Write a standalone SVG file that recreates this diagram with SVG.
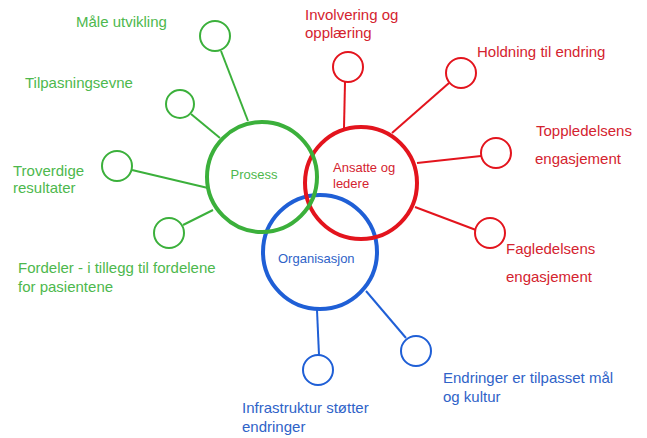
<svg xmlns="http://www.w3.org/2000/svg" width="647" height="438" viewBox="0 0 647 438">
<style>
text{font-family:"Liberation Sans",Arial,sans-serif;font-size:15px}
.g{fill:#4db84d}.r{fill:#d4232f}.b{fill:#2f63c8}
.in{font-size:13px}
.big{fill:none;stroke-width:4}
.sm{fill:#fff;stroke-width:2}
.ln{stroke-width:2;fill:none}
.G{stroke:#3bb03b}.R{stroke:#e3141d}.B{stroke:#1f5fd6}
</style>
<rect width="647" height="438" fill="#fff"/>
<g id="connectors">
<line class="ln G" x1="221" y1="51" x2="248" y2="121"/>
<line class="ln G" x1="191" y1="114" x2="220" y2="138"/>
<line class="ln G" x1="132" y1="170" x2="208" y2="188"/>
<line class="ln G" x1="183" y1="225" x2="213" y2="210"/>
<line class="ln R" x1="345" y1="82" x2="344" y2="128"/>
<line class="ln R" x1="449" y1="83" x2="392" y2="133"/>
<line class="ln R" x1="481" y1="156" x2="417" y2="163"/>
<line class="ln R" x1="415" y1="207" x2="476" y2="230"/>
<line class="ln B" x1="317" y1="310" x2="319" y2="355"/>
<line class="ln B" x1="366" y1="291" x2="406" y2="338"/>
</g>
<g id="organisasjon"><circle class="big B" cx="320" cy="252" r="57"/><text class="b in" x="278" y="263">Organisasjon</text></g>
<g id="ansatte"><circle class="big R" cx="361" cy="183" r="56"/><text class="r in" x="333" y="172">Ansatte og</text><text class="r in" x="333" y="188">ledere</text></g>
<g id="prosess"><circle class="big G" cx="262" cy="177" r="55"/><text class="g in" x="254" y="179" text-anchor="middle">Prosess</text></g>
<g id="maale"><circle class="sm G" cx="215" cy="36" r="15"/><text class="g" x="76" y="27">Måle utvikling</text></g>
<g id="tilpasning"><circle class="sm G" cx="180" cy="104" r="14"/><text class="g" x="25" y="88">Tilpasningsevne</text></g>
<g id="troverdige"><circle class="sm G" cx="117" cy="166" r="15"/><text class="g" x="13" y="176">Troverdige</text><text class="g" x="13" y="193">resultater</text></g>
<g id="fordeler"><circle class="sm G" cx="169" cy="233" r="15"/><text class="g" x="18" y="273">Fordeler - i tillegg til fordelene</text><text class="g" x="18" y="292">for pasientene</text></g>
<g id="involvering"><circle class="sm R" cx="348" cy="67" r="15"/><text class="r" x="305" y="20">Involvering og</text><text class="r" x="305" y="38">opplæring</text></g>
<g id="holdning"><circle class="sm R" cx="461" cy="73" r="15"/><text class="r" x="477" y="57">Holdning til endring</text></g>
<g id="toppledelse"><circle class="sm R" cx="496" cy="153" r="15"/><text class="r" x="536" y="136">Toppledelsens</text><text class="r" x="535" y="164">engasjement</text></g>
<g id="fagledelse"><circle class="sm R" cx="490" cy="233" r="15"/><text class="r" x="506" y="254">Fagledelsens</text><text class="r" x="506" y="282">engasjement</text></g>
<g id="infrastruktur"><circle class="sm B" cx="318" cy="370" r="15"/><text class="b" x="242" y="413">Infrastruktur støtter</text><text class="b" x="242" y="432">endringer</text></g>
<g id="endringer"><circle class="sm B" cx="416" cy="351" r="15"/><text class="b" x="443" y="383">Endringer er tilpasset mål</text><text class="b" x="443" y="402">og kultur</text></g>
</svg>
